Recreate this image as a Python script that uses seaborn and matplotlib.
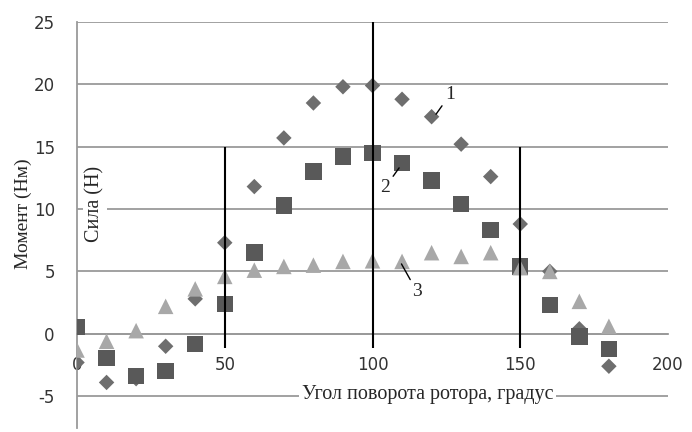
import matplotlib
matplotlib.use("Agg")
import matplotlib.pyplot as plt
import seaborn as sns

# data
angle = [0, 10, 20, 30, 40, 50, 60, 70, 80, 90, 100, 110, 120, 130, 140, 150, 160, 170, 180]
moment_1 = [-2.3, -3.9, -3.6, -1.0, 2.8, 7.3, 11.8, 15.7, 18.5, 19.8, 19.9, 18.8, 17.4, 15.2, 12.6, 8.8, 5.0, 0.4, -2.6]
moment_2 = [0.55, -1.95, -3.4, -3.0, -0.8, 2.4, 6.5, 10.3, 13.0, 14.2, 14.5, 13.7, 12.3, 10.4, 8.3, 5.4, 2.3, -0.2, -1.2]
force_3 = [-1.3, -0.6, 0.25, 2.2, 3.6, 4.6, 5.1, 5.4, 5.5, 5.8, 5.85, 5.8, 6.5, 6.2, 6.5, 5.3, 5.0, 2.6, 0.6]

x_ticks = [0, 50, 100, 150, 200]
y_ticks = [-5, 0, 5, 10, 15, 20, 25]
marks = [50, 100, 150]
marks_top = [15, 25, 15]

sns.set_style("white")
plt.rcParams['font.family'] = ['DejaVu Sans']
plt.rcParams['axes.unicode_minus'] = False
serif = 'Liberation Serif'

fig = plt.figure(figsize=(6.92, 4.32), dpi=100)
ax = fig.add_axes([0.1113, 0.0093, 0.854, 0.94])

sns.scatterplot(x=angle, y=moment_1, marker='D', s=62, color='#6e6e6e', edgecolor='none', ax=ax, zorder=3)
sns.scatterplot(x=angle, y=moment_2, marker='s', s=140, color='#595959', edgecolor='none', ax=ax, zorder=3)
sns.scatterplot(x=angle, y=force_3, marker='^', s=125, color='#a8a8a8', edgecolor='none', ax=ax, zorder=3)

# vertical black markers at 50 / 100 / 150
for xm, top in zip(marks, marks_top):
    ax.vlines(xm, -1.1, top, color='black', lw=1.5, zorder=5)

ax.set_xlim(0, 200)
ax.set_ylim(-7.55, 25)
ax.set_xticks(x_ticks)
ax.set_yticks(y_ticks)
ax.yaxis.grid(True, color='#9a9a9a', lw=1.3, zorder=0)
ax.xaxis.grid(False)

for side in ['top', 'right']:
    ax.spines[side].set_visible(False)
ax.spines['left'].set_color('#9a9a9a')
ax.spines['left'].set_linewidth(1.3)
ax.spines['bottom'].set_position(('data', 0))
ax.spines['bottom'].set_color('#9a9a9a')
ax.spines['bottom'].set_linewidth(1.3)

ax.tick_params(axis='y', direction='out', length=5, width=1.3, color='#9a9a9a',
               pad=11, labelsize=12, labelcolor='#333333')
ax.tick_params(axis='x', direction='inout', length=6, width=1.3, color='#9a9a9a',
               pad=13, labelsize=12, labelcolor='#333333')

ax.set_ylabel('Момент (Нм)', family=serif, fontsize=14)
ax.yaxis.set_label_coords(-0.076, 0.527)
ax.set_xlabel('')

# x label sits on the -5 gridline with a white box, like the original
ax.text(118.6, -4.85, 'Угол поворота ротора, градус', family=serif, fontsize=14.5,
        ha='center', va='center', zorder=6,
        bbox=dict(facecolor='white', edgecolor='none', pad=2))

ax.text(6.1, 10.4, 'Сила (Н)', rotation=90, family=serif, fontsize=14.5,
        ha='center', va='center', zorder=6,
        bbox=dict(facecolor='white', edgecolor='none', pad=2))

arrow = dict(arrowstyle='-', color='black', lw=1, shrinkA=0, shrinkB=0)
ax.annotate('1', xy=(121.5, 17.6), xytext=(126.3, 19.2), family=serif, fontsize=14,
            ha='center', va='center', arrowprops=arrow, zorder=6)
ax.annotate('2', xy=(109, 13.3), xytext=(104.2, 11.7), family=serif, fontsize=14,
            ha='center', va='center', arrowprops=arrow, zorder=6)
ax.annotate('3', xy=(109.8, 5.6), xytext=(115, 3.4), family=serif, fontsize=14,
            ha='center', va='center', arrowprops=arrow, zorder=6)

fig.savefig('out.png', dpi=100)
